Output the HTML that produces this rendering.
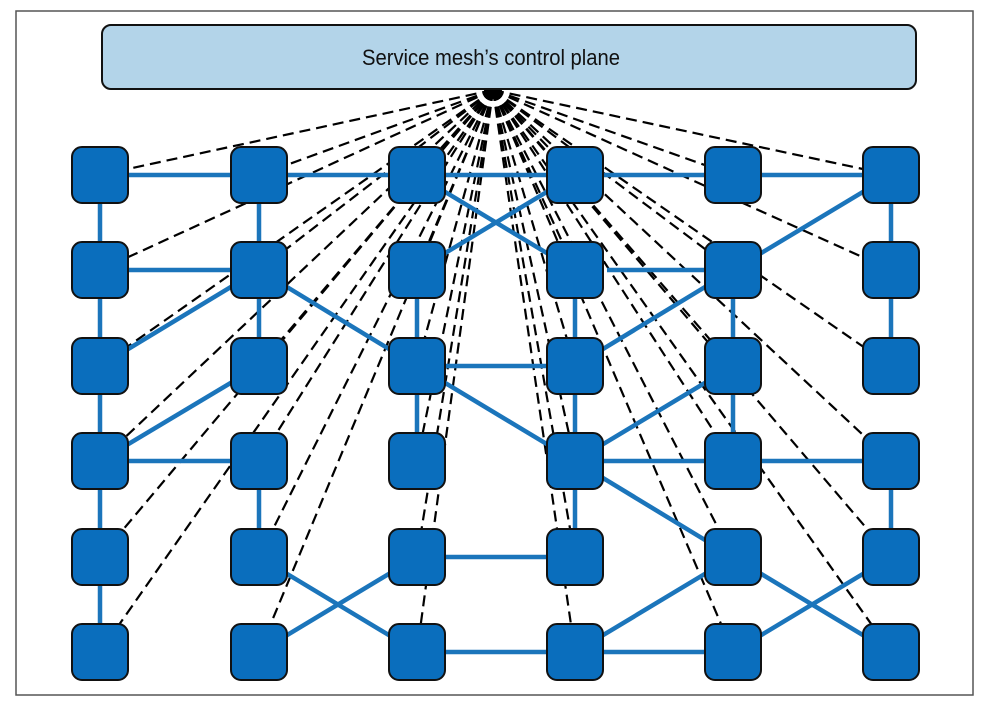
<!DOCTYPE html>
<html><head><meta charset="utf-8"><style>
html,body{margin:0;padding:0;background:#fff;width:990px;height:712px;overflow:hidden}
</style></head><body>
<svg width="990" height="712" viewBox="0 0 990 712" xmlns="http://www.w3.org/2000/svg">
<rect x="16" y="11" width="957" height="684" fill="#fff" stroke="#555" stroke-width="1.5"/>
<g stroke="#000" stroke-width="2.2" stroke-dasharray="11,6" fill="none">
<line x1="493" y1="90" x2="100" y2="175"/><line x1="493" y1="90" x2="259" y2="175"/><line x1="493" y1="90" x2="417" y2="175"/><line x1="493" y1="90" x2="575" y2="175"/><line x1="493" y1="90" x2="733" y2="175"/><line x1="493" y1="90" x2="891" y2="175"/>
<line x1="493" y1="90" x2="100" y2="270"/><line x1="493" y1="90" x2="259" y2="270"/><line x1="493" y1="90" x2="417" y2="270"/><line x1="493" y1="90" x2="575" y2="270"/><line x1="493" y1="90" x2="733" y2="270"/><line x1="493" y1="90" x2="891" y2="270"/>
<line x1="493" y1="90" x2="100" y2="366"/><line x1="493" y1="90" x2="259" y2="366"/><line x1="493" y1="90" x2="417" y2="366"/><line x1="493" y1="90" x2="575" y2="366"/><line x1="493" y1="90" x2="733" y2="366"/><line x1="493" y1="90" x2="891" y2="366"/>
<line x1="493" y1="90" x2="100" y2="461"/><line x1="493" y1="90" x2="259" y2="461"/><line x1="493" y1="90" x2="417" y2="461"/><line x1="493" y1="90" x2="575" y2="461"/><line x1="493" y1="90" x2="733" y2="461"/><line x1="493" y1="90" x2="891" y2="461"/>
<line x1="493" y1="90" x2="100" y2="557"/><line x1="493" y1="90" x2="259" y2="557"/><line x1="493" y1="90" x2="417" y2="557"/><line x1="493" y1="90" x2="575" y2="557"/><line x1="493" y1="90" x2="733" y2="557"/><line x1="493" y1="90" x2="891" y2="557"/>
<line x1="493" y1="90" x2="100" y2="652"/><line x1="493" y1="90" x2="259" y2="652"/><line x1="493" y1="90" x2="417" y2="652"/><line x1="493" y1="90" x2="575" y2="652"/><line x1="493" y1="90" x2="733" y2="652"/><line x1="493" y1="90" x2="891" y2="652"/>
</g>
<circle cx="493" cy="90" r="9" fill="#000"/>
<rect x="102" y="25" width="814" height="64" rx="9" fill="#b3d4e9" stroke="#111" stroke-width="2"/>
<text x="491" y="65" text-anchor="middle" font-family="Liberation Sans Narrow, Liberation Sans, sans-serif" font-size="22" fill="#111" textLength="258" lengthAdjust="spacingAndGlyphs">Service mesh’s control plane</text>
<g stroke="#1b75bb" stroke-width="4.5" fill="none">
<line x1="100" y1="175" x2="891" y2="175"/>
<line x1="100" y1="175" x2="100" y2="652"/>
<line x1="259" y1="175" x2="259" y2="366"/>
<line x1="417" y1="175" x2="575" y2="270"/>
<line x1="575" y1="175" x2="417" y2="270"/>
<line x1="891" y1="175" x2="733" y2="270"/>
<line x1="891" y1="175" x2="891" y2="366"/>
<line x1="100" y1="270" x2="259" y2="270"/>
<line x1="259" y1="270" x2="100" y2="366"/>
<line x1="259" y1="270" x2="417" y2="366"/>
<line x1="417" y1="270" x2="417" y2="366"/>
<line x1="575" y1="270" x2="575" y2="366"/>
<line x1="607" y1="270" x2="733" y2="270"/>
<line x1="733" y1="270" x2="575" y2="366"/>
<line x1="733" y1="270" x2="733" y2="461"/>
<line x1="417" y1="366" x2="575" y2="366"/>
<line x1="417" y1="366" x2="417" y2="461"/>
<line x1="417" y1="366" x2="575" y2="461"/>
<line x1="575" y1="366" x2="575" y2="557"/>
<line x1="259" y1="366" x2="100" y2="461"/>
<line x1="100" y1="461" x2="259" y2="461"/>
<line x1="259" y1="461" x2="259" y2="557"/>
<line x1="733" y1="366" x2="575" y2="461"/>
<line x1="575" y1="461" x2="891" y2="461"/>
<line x1="891" y1="461" x2="891" y2="557"/>
<line x1="575" y1="461" x2="733" y2="557"/>
<line x1="417" y1="557" x2="575" y2="557"/>
<line x1="259" y1="557" x2="417" y2="652"/>
<line x1="417" y1="557" x2="259" y2="652"/>
<line x1="733" y1="557" x2="575" y2="652"/>
<line x1="891" y1="557" x2="733" y2="652"/>
<line x1="733" y1="557" x2="891" y2="652"/>
<line x1="417" y1="652" x2="733" y2="652"/>
</g>
<g fill="#0a6ebd" stroke="#111" stroke-width="2">
<rect x="72" y="147" width="56" height="56" rx="10"/><rect x="231" y="147" width="56" height="56" rx="10"/><rect x="389" y="147" width="56" height="56" rx="10"/><rect x="547" y="147" width="56" height="56" rx="10"/><rect x="705" y="147" width="56" height="56" rx="10"/><rect x="863" y="147" width="56" height="56" rx="10"/>
<rect x="72" y="242" width="56" height="56" rx="10"/><rect x="231" y="242" width="56" height="56" rx="10"/><rect x="389" y="242" width="56" height="56" rx="10"/><rect x="547" y="242" width="56" height="56" rx="10"/><rect x="705" y="242" width="56" height="56" rx="10"/><rect x="863" y="242" width="56" height="56" rx="10"/>
<rect x="72" y="338" width="56" height="56" rx="10"/><rect x="231" y="338" width="56" height="56" rx="10"/><rect x="389" y="338" width="56" height="56" rx="10"/><rect x="547" y="338" width="56" height="56" rx="10"/><rect x="705" y="338" width="56" height="56" rx="10"/><rect x="863" y="338" width="56" height="56" rx="10"/>
<rect x="72" y="433" width="56" height="56" rx="10"/><rect x="231" y="433" width="56" height="56" rx="10"/><rect x="389" y="433" width="56" height="56" rx="10"/><rect x="547" y="433" width="56" height="56" rx="10"/><rect x="705" y="433" width="56" height="56" rx="10"/><rect x="863" y="433" width="56" height="56" rx="10"/>
<rect x="72" y="529" width="56" height="56" rx="10"/><rect x="231" y="529" width="56" height="56" rx="10"/><rect x="389" y="529" width="56" height="56" rx="10"/><rect x="547" y="529" width="56" height="56" rx="10"/><rect x="705" y="529" width="56" height="56" rx="10"/><rect x="863" y="529" width="56" height="56" rx="10"/>
<rect x="72" y="624" width="56" height="56" rx="10"/><rect x="231" y="624" width="56" height="56" rx="10"/><rect x="389" y="624" width="56" height="56" rx="10"/><rect x="547" y="624" width="56" height="56" rx="10"/><rect x="705" y="624" width="56" height="56" rx="10"/><rect x="863" y="624" width="56" height="56" rx="10"/>
</g>
</svg>
</body></html>
